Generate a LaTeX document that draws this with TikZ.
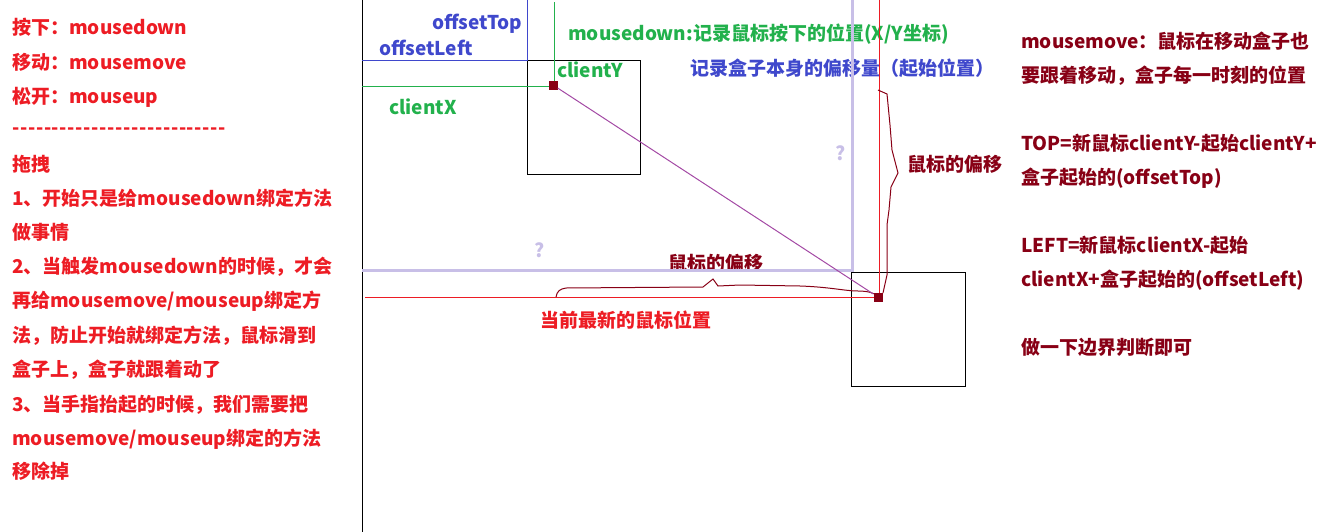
\documentclass[tikz,border=0pt]{standalone}
\usepackage{fontspec}
\newfontfamily\yhfont{Noto Sans CJK SC}
\definecolor{pred}{RGB}{237,28,36}
\definecolor{pdark}{RGB}{136,0,21}
\definecolor{pgreen}{RGB}{34,177,76}
\definecolor{pblue}{RGB}{63,72,204}
\definecolor{plilac}{RGB}{200,191,231}
\definecolor{ppurple}{RGB}{163,73,164}

\begin{document}
\begin{tikzpicture}[x=0.75pt,y=0.75pt,yscale=-1,xscale=1,
  lbl/.style={anchor=base west,inner sep=0pt,font=\yhfont\bfseries\fontsize{14.25}{17}\selectfont},
  thin/.style={line width=0.75pt},
  msq/.style={rectangle,fill=pdark,inner sep=0pt,minimum size=6.75pt}]
\useasboundingbox (0,0) rectangle (1336,532);
% left notes
\draw (12,34) node (down) [lbl,pred] {按下：mousedown};
\draw (12,69) node (move) [lbl,pred] {移动：mousemove};
\draw (12,103) node (up) [lbl,pred] {松开：mouseup};
\draw (12,134) node (sep) [lbl,pred] {\addfontfeature{LetterSpace=3.5}---------------------------};
\draw (12,171) node (drag) [lbl,pred] {拖拽};
\draw (12,205) node (s1a) [lbl,pred] {1、开始只是给mousedown绑定方法};
\draw (12,239) node (s1b) [lbl,pred] {做事情};
\draw (12,273) node (s2a) [lbl,pred] {2、当触发mousedown的时候，才会};
\draw (12,307) node (s2b) [lbl,pred] {再给mousemove/mouseup绑定方};
\draw (12,342) node (s2c) [lbl,pred] {法，防止开始就绑定方法，鼠标滑到};
\draw (12,376) node (s2d) [lbl,pred] {盒子上，盒子就跟着动了};
\draw (12,411) node (s3a) [lbl,pred] {3、当手指抬起的时候，我们需要把};
\draw (12,445) node (s3b) [lbl,pred] {mousemove/mouseup绑定的方法};
\draw (12,478) node (s3c) [lbl,pred] {移除掉};
% right notes
\draw (1021,48) node (mm1) [lbl,pdark] {mousemove：鼠标在移动盒子也};
\draw (1021,82) node (mm2) [lbl,pdark] {要跟着移动，盒子每一时刻的位置};
\draw (1021,150) node (top1) [lbl,pdark] {TOP=新鼠标clientY-起始clientY+};
\draw (1021,184) node (top2) [lbl,pdark] {盒子起始的(offsetTop)};
\draw (1021,252) node (left1) [lbl,pdark] {LEFT=新鼠标clientX-起始};
\draw (1021,286) node (left2) [lbl,pdark] {clientX+盒子起始的(offsetLeft)};
\draw (1021,354) node (edge) [lbl,pdark] {做一下边界判断即可};
% labels in the sketch
\draw (432,29) node (offT) [lbl,pblue] {offsetTop};
\draw (379,55) node (offL) [lbl,pblue] {offsetLeft};
\draw (557,77) node (cY) [lbl,pgreen] {clientY};
\draw (389,114) node (cX) [lbl,pgreen] {clientX};
\draw (568,40) node (mdown) [lbl,pgreen] {mousedown:记录鼠标按下的位置(X/Y坐标)};
\draw (690,75) node (boxoff) [lbl,pblue] {记录盒子本身的偏移量（起始位置）};
\draw (907,171) node (dy) [lbl,pdark] {鼠标的偏移};
\draw (668,270) node (dx) [lbl,pdark] {鼠标的偏移};
\draw (540,327) node (now) [lbl,pred] {当前最新的鼠标位置};
\draw (835,160) node (q1) [lbl,plilac] {?};
\draw (534,257) node (q2) [lbl,plilac] {?};
% frame and boxes
\draw [thin] (362,0) -- (362,532);
\draw [thin] (527,60) rectangle (640,174);
\draw [thin] (851,272) rectangle (965,386);
\coordinate (btop) at (527,0);
\coordinate (bleft) at (362,60);
\draw [pblue,thin] (btop) |- (bleft);
\coordinate (gtop) at (554,2);
\coordinate (gleft) at (362,86);
\draw [pgreen,thin] (gtop) |- (gleft);
\coordinate (ltop) at (852,0);
\coordinate (lleft) at (362,270);
\draw [plilac,line width=2.25pt] (ltop) |- (lleft);
\coordinate (rtop) at (879,0);
\coordinate (rleft) at (365,297);
\draw [pred,thin] (rtop) |- (rleft);
% braces
\draw [pdark,thin] (556,297) .. controls (557,291) and (560,289) .. (566,288) -- (703,287) -- (713,279) -- (718,286) -- (740,285) -- (800,286) .. controls (830,287) and (845,291) .. (858,291) .. controls (868,291) and (874,293) .. (878,296);
\draw [pdark,thin] (878,90) -- (887,94) -- (890,125) -- (892,150) -- (898,173) -- (891,187) -- (889,210) -- (887,225) -- (887,275) -- (883,293);
% mouse points
\node (sq1) [msq] at (553,85) {};
\node (sq2) [msq] at (878,297) {};
\draw [ppurple,thin] (sq1) -- (sq2);
\end{tikzpicture}
\end{document}
